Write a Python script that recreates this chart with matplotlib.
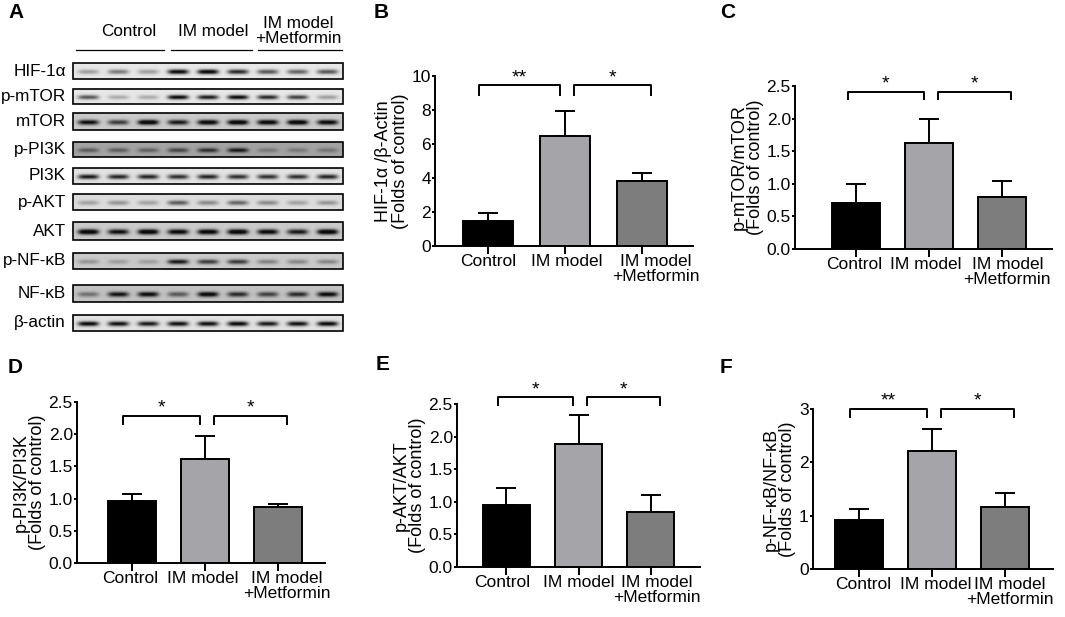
import numpy as np
import matplotlib
matplotlib.use("Agg")
import matplotlib.pyplot as plt
from matplotlib.patches import Rectangle
from matplotlib.transforms import ScaledTranslation

plt.rcParams['font.family'] = ['Liberation Sans', 'DejaVu Sans']

W, H = 1065, 617

# ---------------- data ----------------
groups = ["Control", "IM model", "IM model\n+Metformin"]
bar_colors = ["#000000", "#a5a5a9", "#7d7d7d"]

hif_mean = [1.45, 6.5, 3.85]
hif_err = [0.52, 1.42, 0.45]
mtor_mean = [0.71, 1.62, 0.79]
mtor_err = [0.29, 0.38, 0.26]
pi3k_mean = [0.97, 1.62, 0.87]
pi3k_err = [0.10, 0.35, 0.05]
akt_mean = [0.95, 1.89, 0.84]
akt_err = [0.26, 0.44, 0.26]
nfkb_mean = [0.92, 2.22, 1.17]
nfkb_err = [0.20, 0.40, 0.26]

sig_B = ["**", "*"]
sig_C = ["*", "*"]
sig_D = ["*", "*"]
sig_E = ["*", "*"]
sig_F = ["**", "*"]

blot_names = ["HIF-1α", "p-mTOR", "mTOR", "p-PI3K", "PI3K", "p-AKT", "AKT",
              "p-NF-κB", "NF-κB", "β-actin"]
blot_bands = [
    [0.30, 0.45, 0.30, 0.95, 1.00, 0.80, 0.60, 0.55, 0.60],
    [0.60, 0.25, 0.25, 0.95, 0.85, 0.95, 0.80, 0.70, 0.30],
    [0.80, 0.60, 0.95, 0.75, 0.90, 0.95, 0.90, 0.95, 0.85],
    [0.30, 0.30, 0.28, 0.40, 0.50, 0.60, 0.18, 0.18, 0.20],
    [0.85, 0.80, 0.80, 0.75, 0.80, 0.75, 0.75, 0.75, 0.80],
    [0.25, 0.30, 0.25, 0.55, 0.35, 0.50, 0.35, 0.25, 0.30],
    [0.95, 0.80, 0.95, 0.85, 0.90, 0.95, 0.85, 0.75, 0.95],
    [0.22, 0.18, 0.18, 0.75, 0.60, 0.60, 0.30, 0.28, 0.28],
    [0.35, 0.75, 0.80, 0.45, 0.85, 0.65, 0.55, 0.65, 0.80],
    [0.95, 0.90, 0.85, 0.90, 0.90, 0.95, 0.85, 0.90, 0.95],
]
blot_bg = [0.10, 0.10, 0.22, 0.38, 0.12, 0.14, 0.22, 0.22, 0.25, 0.12]

# ---------------- figure ----------------
fig = plt.figure(figsize=(W / 100, H / 100), dpi=100)
bg_ax = fig.add_axes([0, 0, 1, 1])
bg_ax.axis("off")

FS = 12.5

# panel letters
for letter, (lx, ly) in zip("ABCDEF", [(8, 3), (374, 3), (720, 3), (8, 358), (376, 355), (720, 358)]):
    bg_ax.text(lx, ly, letter, fontsize=15, fontweight="bold", va="top", ha="left")

# ---------------- panel A: blot ----------------
box_x0, box_x1 = 73, 343
row_tops = [63, 89, 113, 142, 168, 194, 222, 253, 285, 315]
row_h = [16, 15, 17, 15, 16, 16, 18, 16, 17, 16]
nl = 9
lane_w = (box_x1 - box_x0) / nl
for name, bands, bgv, top, hh in zip(blot_names, blot_bands, blot_bg, row_tops, row_h):
    xs = np.linspace(0, box_x1 - box_x0, 270)
    ys = np.linspace(0, hh, 40)
    X, Y = np.meshgrid(xs, ys)
    img = np.full_like(X, bgv)
    for i, v in enumerate(bands):
        cx = (i + 0.5) * lane_w
        cy = hh * 0.55
        img += v * np.exp(-((X - cx) / 10.5) ** 4) * np.exp(-((Y - cy) / (hh * 0.15)) ** 2)
    img = np.clip(img, 0, 1)
    bg_ax.imshow(img, cmap="gray_r", vmin=0, vmax=1.05, aspect="auto",
                 extent=[box_x0, box_x1, top + hh, top], interpolation="bilinear", zorder=1)
    bg_ax.add_patch(Rectangle((box_x0, top), box_x1 - box_x0, hh, fill=False,
                              edgecolor="black", lw=1.2, zorder=2))
    bg_ax.text(66, top + hh / 2, name, ha="right", va="center", fontsize=12.3)

bg_ax.set_xlim(0, W)
bg_ax.set_ylim(H, 0)

# header
bg_ax.text(129, 32, "Control", ha="center", va="center", fontsize=12.3)
bg_ax.text(213, 32, "IM model", ha="center", va="center", fontsize=12.3)
bg_ax.text(298, 31, "IM model\n+Metformin", ha="center", va="center", fontsize=12.3,
           linespacing=0.95)
for x0, x1 in [(76, 164), (171, 252), (258, 342)]:
    bg_ax.plot([x0, x1], [50, 50], color="black", lw=0.9)


# ---------------- bar panels ----------------
def px_axes(left, top, right, bottom):
    return fig.add_axes([left / W, (H - bottom) / H, (right - left) / W, (bottom - top) / H])


def bar_panel(ax, means, errs, ymax, yticks, ylabel, sigs, br_y, br_drop, xlim, width,
              fmt, shifts):
    x = np.arange(len(groups))
    ax.bar(x, means, width=width, color=bar_colors, edgecolor="black", linewidth=1.4,
           zorder=2)
    ax.errorbar(x, means, yerr=[np.zeros(3), errs], fmt="none", ecolor="black",
                elinewidth=1.4, capsize=7, capthick=1.4, zorder=1)
    ax.set_xlim(*xlim)
    ax.set_ylim(0, ymax)
    ax.set_yticks(yticks)
    ax.set_yticklabels([fmt % v for v in yticks])
    ax.set_xticks(x)
    ax.set_xticklabels([])
    for xi, g, dx in zip(x, groups, shifts):
        tr = ax.get_xaxis_transform() + ScaledTranslation(dx / 100, -8 / 100, fig.dpi_scale_trans)
        ax.text(xi, 0, g, transform=tr, ha="center", va="top", fontsize=FS,
                linespacing=1.0, clip_on=False)
    for sp in ["top", "right"]:
        ax.spines[sp].set_visible(False)
    for sp in ["left", "bottom"]:
        ax.spines[sp].set_linewidth(1.4)
    ax.tick_params(axis="x", length=6, width=1.4, pad=2)
    ax.tick_params(axis="y", length=2, width=1.4, pad=1, labelsize=FS)
    ax.set_ylabel(ylabel, fontsize=13, linespacing=0.95, labelpad=2)
    spans = [(-0.12, 0.93), (1.12, 2.12)]
    for (a, b), s in zip(spans, sigs):
        ax.plot([a, a, b, b], [br_y - br_drop, br_y, br_y, br_y - br_drop],
                color="black", lw=1.4, clip_on=False)
        ax.text((a + b) / 2, br_y - br_drop * 0.1, s, ha="center", va="bottom",
                fontsize=14, clip_on=False)


axB = px_axes(435, 76, 693, 246)
bar_panel(axB, hif_mean, hif_err, 10, [0, 2, 4, 6, 8, 10],
          "HIF-1α /β-Actin\n(Folds of control)", sig_B, 9.47, 0.58, (-0.69, 2.66), 0.65, "%d",
          (0, 2, 14))

axC = px_axes(795, 86, 1052, 249)
bar_panel(axC, mtor_mean, mtor_err, 2.5, [0, 0.5, 1.0, 1.5, 2.0, 2.5],
          "p-mTOR/mTOR\n(Folds of control)", sig_C, 2.41, 0.11, (-0.84, 2.68), 0.66, "%.1f",
          (-2, -4, 5))

axD = px_axes(77, 402, 325, 563)
bar_panel(axD, pi3k_mean, pi3k_err, 2.5, [0, 0.5, 1.0, 1.5, 2.0, 2.5],
          "p-PI3K/PI3K\n(Folds of control)", sig_D, 2.29, 0.13, (-0.75, 2.64), 0.65, "%.1f",
          (-2, -2, 9))

axE = px_axes(457, 404, 700, 567)
bar_panel(axE, akt_mean, akt_err, 2.5, [0, 0.5, 1.0, 1.5, 2.0, 2.5],
          "p-AKT/AKT\n(Folds of control)", sig_E, 2.60, 0.12, (-0.68, 2.68), 0.65, "%.1f",
          (-4, 0, 6))

axF = px_axes(813, 409, 1053, 569)
bar_panel(axF, nfkb_mean, nfkb_err, 3, [0, 1, 2, 3],
          "p-NF-κB/NF-κB\n(Folds of control)", sig_F, 3.0, 0.15, (-0.63, 2.66), 0.65, "%d",
          (4, 4, 5))

fig.savefig("out.png", dpi=100)
